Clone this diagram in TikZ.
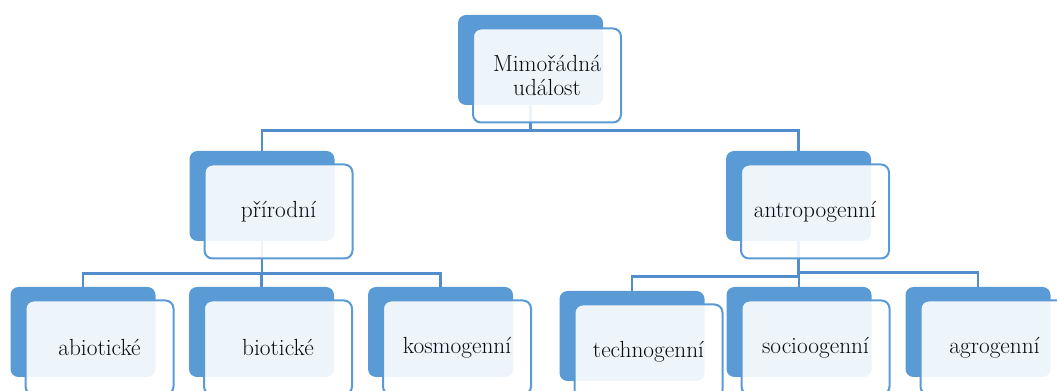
\documentclass[tikz,border=0pt]{standalone}
\usepackage{fontspec}
\usepackage{tikz}
\usetikzlibrary{positioning,calc,backgrounds}
\definecolor{smblue}{RGB}{91,155,213}
\definecolor{smline}{RGB}{84,141,204}
\definecolor{smtext}{RGB}{10,10,10}
\tikzset{
  back/.style={draw=none, fill=smblue, rounded corners=6pt, minimum width=108.75pt, minimum height=67.5pt, inner sep=0pt},
  front/.style={draw=smblue, line width=1.5pt, fill=white, fill opacity=0.9, text opacity=1, text=smtext, rounded corners=6pt, minimum width=111pt, minimum height=70.5pt, align=center, font=\fontsize{17.5}{18}\selectfont, inner sep=0pt},
  conn/.style={draw=smline, line width=2pt}
}
\newcommand{\evbox}[4]{%
  \node[back] (#1-b) at (#2,#3) {};
  \node[front] (#1) at ($(#1-b)+(16.5,15.5)$) {#4};}

\begin{document}
\begin{tikzpicture}[x=0.75pt, y=-0.75pt]
  \clip (0,0) rectangle (1057,391);
  \evbox{ev}{530.5}{60}{\rule{0pt}{8pt}Mimořádná\\událost}
  \evbox{prir}{262}{196}{přírodní}
  \evbox{antro}{798.5}{196}{antropogenní}
  \evbox{abio}{83}{332}{abiotické}
  \evbox{bio}{261.5}{332}{biotické}
  \evbox{kosmo}{440.5}{332}{kosmogenní}
  \evbox{techno}{632}{336}{technogenní}
  \evbox{socio}{799}{332}{socioogenní}
  \evbox{agro}{978}{332}{agrogenní}
  \begin{scope}[on background layer]
    \foreach \ch in {prir,antro} \draw[conn] (ev-b.south) -- ++(0,25) -| (\ch-b.north);
    \foreach \ch in {abio,bio,kosmo} \draw[conn] (prir-b.south) -- ++(0,32) -| (\ch-b.north);
    \foreach \ch in {socio,agro} \draw[conn] (antro-b.south) -- ++(0,31) -| (\ch-b.north);
    \draw[conn] (antro-b.south) -- ++(0,35) -| (techno-b.north);
  \end{scope}
\end{tikzpicture}
\end{document}
